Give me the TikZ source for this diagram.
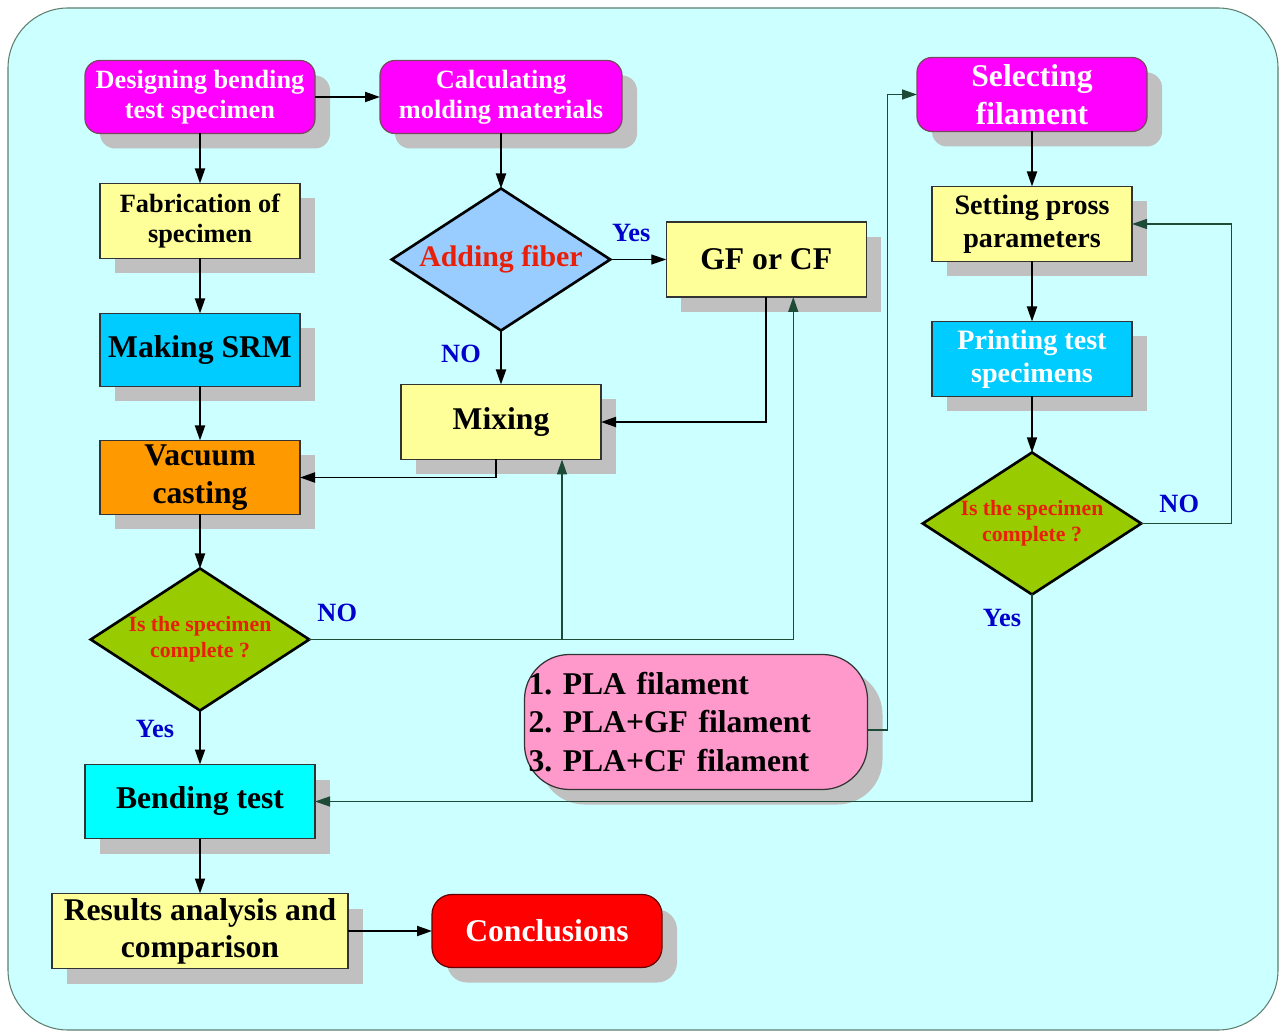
\documentclass[tikz,border=0pt]{standalone}
\usepackage{fontspec}
\setmainfont{Liberation Serif}
\usetikzlibrary{shapes.geometric}
\usetikzlibrary{positioning}
\usetikzlibrary{shadows}
\usetikzlibrary{arrows.meta}
\frenchspacing

\definecolor{bgcyan}{HTML}{CCFFFF}
\definecolor{framegray}{HTML}{5F7F70}
\definecolor{shadowgray}{HTML}{C0C0C0}
\definecolor{boxmagenta}{HTML}{FF00FF}
\definecolor{boxyellow}{HTML}{FFFF99}
\definecolor{boxblue}{HTML}{00CCFF}
\definecolor{boxorange}{HTML}{FF9900}
\definecolor{boxcyan}{HTML}{00FFFF}
\definecolor{boxpink}{HTML}{FF99CC}
\definecolor{boxred}{HTML}{FF0000}
\definecolor{fiberblue}{HTML}{99CCFF}
\definecolor{checkgreen}{HTML}{99CC00}
\definecolor{labelblue}{HTML}{0000CC}
\definecolor{questred}{HTML}{E8200A}
\definecolor{linegreen}{HTML}{1E4A38}

\begin{document}
\begin{tikzpicture}[
		box/.style = {draw = black!80, line width = 0.7pt, outer sep = 0pt, minimum width = 4cm, minimum height = 1.5cm, align = center, inner sep = 1pt,
			drop shadow = {shadow xshift = 0.3cm, shadow yshift = -0.3cm, fill = shadowgray, opacity = 1}},
		startbox/.style = {box, rounded corners = 0.3cm, fill = boxmagenta, draw = black!60!magenta, text = white, minimum width = 4.6cm, minimum height = 1.46cm},
		decision/.style = {diamond, draw = black, line width = 1.5pt, outer sep = 0pt, aspect = 1.54, inner sep = 0pt, minimum width = 4.37cm, minimum height = 2.84cm, align = center},
		txtA/.style = {font = \bfseries\fontsize{15}{17}\selectfont},
		txtB/.style = {font = \bfseries\fontsize{16}{19}\selectfont},
		txtC/.style = {font = \bfseries\fontsize{18}{21.8}\selectfont},
		txtQ/.style = {font = \bfseries\fontsize{12.4}{15}\selectfont},
		lbl/.style = {text = labelblue, font = \bfseries\fontsize{15}{17}\selectfont},
		arr/.style = {-{Triangle[length = 0.3cm, width = 0.2cm]}, line width = 1.1pt, black},
		garr/.style = {-{Triangle[length = 0.3cm, width = 0.2cm]}, line width = 0.8pt, draw = linegreen}
	]
	\fill[white] (0,0) rectangle (25.66,20.66);
	\useasboundingbox (0,0) rectangle (25.66,20.66);
	\draw[framegray, fill = bgcyan, rounded corners = 1.2cm, line width = 0.6pt] (0.16,0.06) rectangle (25.56,20.5);

	% left column
	\node[startbox, txtA] (design) at (4,18.72) {Designing bending\\test specimen};
	\node[box, txtA, fill = boxyellow, below = 1cm of design] (fab) {Fabrication of\\specimen};
	\node[box, txtC, fill = boxblue, minimum height = 1.46cm, below = 1.1cm of fab] (srm) {Making SRM};
	\node[box, txtC, fill = boxorange, minimum height = 1.48cm, below = 1.08cm of srm] (vacuum) {Vacuum\\casting};
	\node[decision, txtQ, fill = checkgreen, text = questred, below = 1.08cm of vacuum] (check1) {Is the specimen\\complete ?};
	\node[box, txtC, fill = boxcyan, minimum width = 4.6cm, minimum height = 1.48cm, below = 1.08cm of check1] (bend) {Bending test};
	\node[box, fill = boxyellow, minimum width = 5.92cm, font = \bfseries\fontsize{18}{21}\selectfont, below = 1.1cm of bend] (results) {Results analysis and\\comparison};
	\node[startbox, txtC, fill = boxred, draw = black!60!red, rounded corners = 0.4cm, right = 1.68cm of results] (concl) {Conclusions};

	% middle column
	\node[startbox, txtA, minimum width = 4.84cm, right = 1.3cm of design] (calc) {Calculating\\molding materials};
	\node[decision, fill = fiberblue, text = questred, font = \bfseries\fontsize{17}{20}\selectfont, below = 1.1cm of calc] (fiber) {Adding fiber};
	\node[box, txtC, fill = boxyellow, right = 1.12cm of fiber] (gf) {GF or CF};
	\node[box, txtC, fill = boxyellow, below = 1.08cm of fiber] (mixing) {Mixing};
	\node[box, txtC, fill = boxpink, rounded corners = 0.9cm, minimum height = 2.7cm, text width = 6.7cm, align = left, inner xsep = 0.08cm] (pla) at (13.92,6.22) {1. PLA filament\\2. PLA+GF filament\\3. PLA+CF filament};

	% right column
	\node[startbox, txtC, minimum height = 1.48cm, inner sep = 0pt, right = 5.9cm of calc, yshift = 0.05cm] (select) {Selecting\\filament};
	\node[box, txtB, fill = boxyellow, below = 1.1cm of select] (setting) {Setting pross\\parameters};
	\node[box, txtB, fill = boxblue, text = white, below = 1.2cm of setting] (printing) {Printing test\\specimens};
	\node[decision, txtQ, fill = checkgreen, text = questred, below = 1.12cm of printing] (check2) {Is the specimen\\complete ?};

	% labels
	\node[lbl] (yes1) at ([xshift = 0.42cm, yshift = 0.52cm]fiber.east) {Yes};
	\node[lbl] (no1) at ([xshift = -0.8cm, yshift = -0.46cm]fiber.south) {NO};
	\node[lbl] (no2) at ([xshift = 0.56cm, yshift = 0.54cm]check1.east) {NO};
	\node[lbl] (yes2) at ([xshift = -0.9cm, yshift = -0.36cm]check1.south) {Yes};
	\node[lbl] (no3) at ([xshift = 0.76cm, yshift = 0.4cm]check2.east) {NO};
	\node[lbl] (yes3) at ([xshift = -0.6cm, yshift = -0.48cm]check2.south) {Yes};

	% connectors
	\draw[arr] (design) -- (calc);
	\draw[arr] (design) -- (fab);
	\draw[arr] (fab) -- (srm);
	\draw[arr] (srm) -- (vacuum);
	\draw[arr] (vacuum) -- (check1);
	\draw[arr] (check1) -- (bend);
	\draw[arr] (bend) -- (results);
	\draw[arr] (results) -- (concl);
	\draw[arr] (calc.south -| fiber.north) -- (fiber);
	\draw[arr, line width = 0.8pt] (fiber) -- (gf);
	\draw[arr] (fiber) -- (mixing);
	\draw[arr] (gf) |- (mixing);
	\draw[arr] ([xshift = -0.1cm]mixing.south) |- (vacuum.east);
	\draw[garr] (check1.east) -| ([xshift = 0.54cm]gf.south);
	\draw[garr] ([xshift = 1.22cm]mixing.south |- check1.east) -- ([xshift = 1.22cm]mixing.south);
	\draw[garr] ([yshift = -0.16cm]pla.east) -- ++(0.4,0) |- (select.west);
	\draw[arr] (select) -- (setting);
	\draw[arr] (setting) -- (printing);
	\draw[arr, line width = 0.8pt] (printing) -- (check2);
	\draw[garr] (check2.east) -- ++(1.8,0) |- (setting.east);
	\draw[garr] (check2.south) |- (bend.east);
\end{tikzpicture}
\end{document}
